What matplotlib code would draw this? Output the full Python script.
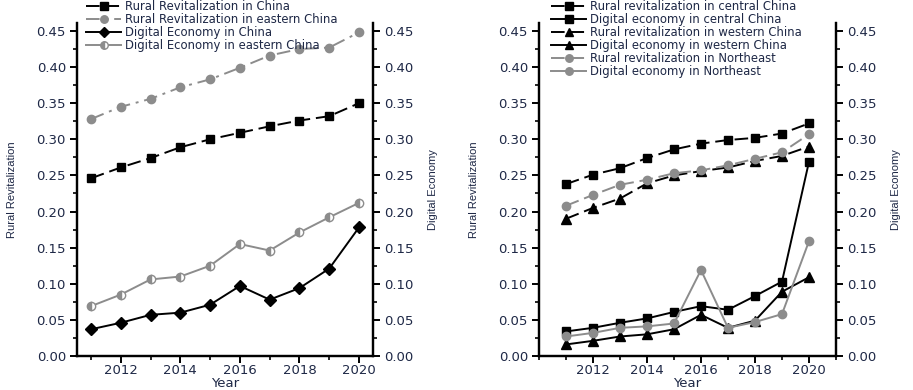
import matplotlib
matplotlib.use("Agg")
import matplotlib.pyplot as plt
from matplotlib.ticker import MultipleLocator

years = [2011, 2012, 2013, 2014, 2015, 2016, 2017, 2018, 2019, 2020]

# Left panel
rr_china = [0.246, 0.261, 0.274, 0.289, 0.300, 0.309, 0.318, 0.326, 0.332, 0.350]
rr_east = [0.328, 0.345, 0.356, 0.372, 0.383, 0.399, 0.416, 0.425, 0.427, 0.448]
de_china = [0.037, 0.046, 0.057, 0.060, 0.071, 0.097, 0.078, 0.094, 0.121, 0.178]
de_east = [0.069, 0.085, 0.106, 0.110, 0.125, 0.155, 0.146, 0.171, 0.192, 0.212]

# Right panel
rr_central = [0.238, 0.251, 0.260, 0.274, 0.286, 0.294, 0.299, 0.302, 0.308, 0.322]
de_central = [0.034, 0.039, 0.046, 0.052, 0.061, 0.069, 0.064, 0.083, 0.103, 0.269]
rr_west = [0.190, 0.205, 0.218, 0.239, 0.250, 0.256, 0.261, 0.270, 0.277, 0.290]
de_west = [0.016, 0.021, 0.027, 0.030, 0.037, 0.057, 0.039, 0.049, 0.089, 0.109]
rr_ne = [0.208, 0.223, 0.237, 0.244, 0.253, 0.257, 0.264, 0.273, 0.282, 0.307]
de_ne = [0.027, 0.032, 0.039, 0.041, 0.045, 0.119, 0.039, 0.047, 0.058, 0.159]

yticks = [0.00, 0.05, 0.10, 0.15, 0.20, 0.25, 0.30, 0.35, 0.40, 0.45]
xticks = [2012, 2014, 2016, 2018, 2020]

GREY = "#8c8c8c"
TXT = "#1e2846"

plt.rcParams['font.family'] = ['DejaVu Sans']

fig = plt.figure(figsize=(9.13, 3.90), dpi=100)
axL = fig.add_axes([77/913, 1-356/390, (373-77)/913, (356-23)/390])
axR = fig.add_axes([539/913, 1-356/390, (836-539)/913, (356-23)/390])


def style(ax, xlim):
    tw = ax.twinx()
    for a in (ax, tw):
        a.set_ylim(0, 0.461)
        a.set_yticks(yticks)
        a.set_yticklabels([f"{v:.2f}" for v in yticks])
        a.yaxis.set_minor_locator(MultipleLocator(0.025))
        a.spines['top'].set_visible(False)
        for s in a.spines.values():
            s.set_linewidth(1.6)
        a.tick_params(axis='y', which='major', length=5, width=1.4, direction='out',
                      labelsize=9.5, labelcolor=TXT, pad=3)
        a.tick_params(axis='y', which='minor', length=3, width=1.2, direction='out')
    ax.set_xlim(*xlim)
    ax.set_xticks(xticks)
    ax.xaxis.set_minor_locator(MultipleLocator(1))
    ax.tick_params(axis='x', which='major', length=5, width=1.4, direction='out',
                   labelsize=9.5, labelcolor=TXT, pad=1)
    ax.tick_params(axis='x', which='minor', length=3, width=1.2, direction='out')
    ax.set_xlabel("Year", fontsize=9.5, color=TXT, labelpad=0)
    ax.set_ylabel("Rural Revitalization", family=['Liberation Sans'], fontsize=8,
                  color=TXT, labelpad=14)
    tw.set_ylabel("Digital Economy", family=['Liberation Sans'], fontsize=8,
                  color=TXT, labelpad=10)
    return tw


twL = style(axL, (2010.53, 2020.47))
twR = style(axR, (2010.0, 2021.0))

MS = 6
hL = []
hL += axL.plot(years, rr_china, color='black', ls=(0, (7, 3)), lw=1.4, marker='s', ms=MS,
               label="Rural Revitalization in China")
hL += axL.plot(years, rr_east, color=GREY, ls=(0, (7, 3, 1.5, 3)), lw=1.4, marker='o', ms=MS,
               label="Rural Revitalization in eastern China")
hL += twL.plot(years, de_china, color='black', ls='-', lw=1.4, marker='D', ms=MS,
               label="Digital Economy in China")
hL += twL.plot(years, de_east, color=GREY, ls='-', lw=1.4, marker='o', ms=MS,
               fillstyle='left', markerfacecolor=GREY, markerfacecoloralt='white',
               markeredgecolor=GREY, label="Digital Economy in eastern China")

hR = []
hR += axR.plot(years, rr_central, color='black', ls=(0, (7, 3)), lw=1.4, marker='s', ms=MS,
               label="Rural revitalization in central China")
hR += twR.plot(years, de_central, color='black', ls='-', lw=1.4, marker='s', ms=MS,
               label="Digital economy in central China")
hR += axR.plot(years, rr_west, color='black', ls=(0, (7, 3)), lw=1.4, marker='^', ms=MS+1,
               label="Rural revitalization in western China")
hR += twR.plot(years, de_west, color='black', ls='-', lw=1.4, marker='^', ms=MS+1,
               label="Digital economy in western China")
hR += axR.plot(years, rr_ne, color=GREY, ls=(0, (7, 3)), lw=1.4, marker='o', ms=MS,
               label="Rural revitalization in Northeast")
hR += twR.plot(years, de_ne, color=GREY, ls='-', lw=1.4, marker='o', ms=MS,
               label="Digital economy in Northeast")

legkw = dict(loc='upper left', frameon=False, fontsize=8.4, handlelength=3.0,
             handletextpad=0.35, labelspacing=0.0, borderpad=0, borderaxespad=0,
             markerscale=0.9)
legL = fig.legend(hL, [h.get_label() for h in hL], bbox_to_anchor=(86/913, 1-0/390), **legkw)
legR = fig.legend(hR, [h.get_label() for h in hR], bbox_to_anchor=(551/913, 1-0/390), **legkw)
for lg in (legL, legR):
    for t in lg.get_texts():
        t.set_color(TXT)

fig.savefig("out.png", dpi=100)
